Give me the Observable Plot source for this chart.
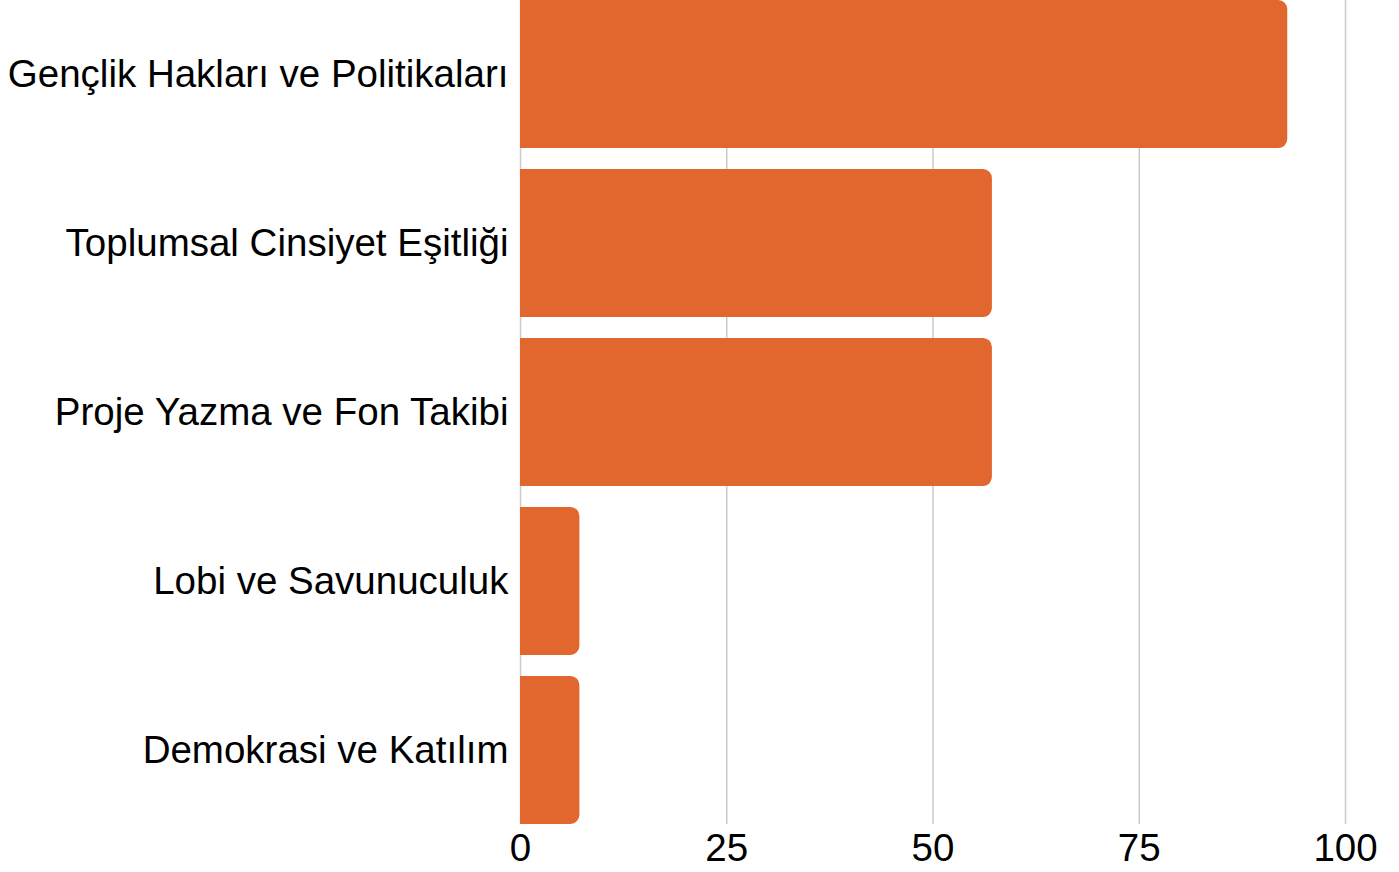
<!DOCTYPE html>
<html>
<head>
<meta charset="utf-8">
<script src="https://cdn.jsdelivr.net/npm/d3@7"></script>
<script src="https://cdn.jsdelivr.net/npm/@observablehq/plot@0.6"></script>
<style>
  html, body { margin: 0; padding: 0; background: #fff; }
</style>
</head>
<body>
<div id="chart"></div>
<script>
const categories = [
  "Gençlik Hakları ve Politikaları",
  "Toplumsal Cinsiyet Eşitliği",
  "Proje Yazma ve Fon Takibi",
  "Lobi ve Savunuculuk",
  "Demokrasi ve Katılım"
];
const values = [93, 57.2, 57.2, 7.2, 7.2];
const xTicks = [0, 25, 50, 75, 100];

const data = categories.map((c, i) => ({ category: c, value: values[i] }));

const chart = Plot.plot({
  width: 1399,
  height: 872,
  marginLeft: 520,
  marginRight: 54,
  marginTop: 0,
  marginBottom: 48,
  style: { fontFamily: "'Liberation Sans', Arial, sans-serif", fontSize: "38.5px", color: "#000", background: "#fff" },
  x: { domain: [0, 100], ticks: xTicks, label: null, tickSize: 0, tickPadding: 9 },
  y: { domain: categories, label: null, paddingInner: 0.124, paddingOuter: 0, round: false, tickSize: 0, tickPadding: 12 },
  marks: [
    Plot.gridX(xTicks, { stroke: "#cccccc", strokeOpacity: 1, strokeWidth: 1.5 }),
    Plot.barX(data, { x: "value", y: "category", fill: "#E2672F", rx2y1: 9, rx2y2: 9 }),
    Plot.axisX({ ticks: xTicks, tickSize: 0, tickPadding: 9, fontSize: 38.5 }),
    Plot.axisY({ tickSize: 0, tickPadding: 12, fontSize: 38.5 })
  ]
});
document.getElementById("chart").appendChild(chart);
</script>
</body>
</html>
